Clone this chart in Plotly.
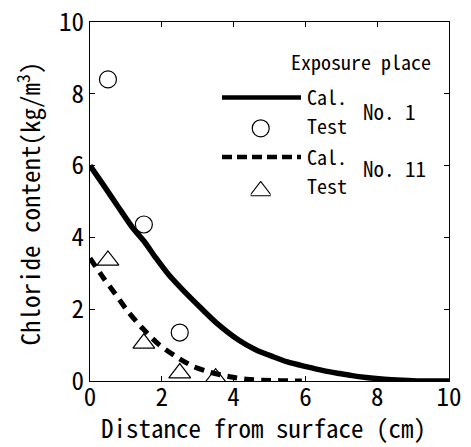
import plotly.graph_objects as go

# Cal. No.1 curve
cal1_x = [0, 0.4, 0.76, 1.2, 1.5, 1.84, 2.2, 2.59, 3.06, 3.52, 4.17, 4.6, 5.09, 5.5, 6.02, 6.5, 6.94, 7.3, 7.69, 8.2, 8.7, 9.2, 10]
cal1_y = [6.0, 5.42, 4.89, 4.25, 3.9, 3.42, 2.95, 2.53, 2.06, 1.62, 1.12, 0.88, 0.68, 0.53, 0.40, 0.29, 0.21, 0.15, 0.10, 0.05, 0.02, 0.0, 0.0]

# Cal. No.11 curve
cal11_x = [0, 0.39, 0.70, 1.07, 1.47, 1.94, 2.43, 2.89, 3.33, 3.89, 4.35, 4.8, 5.3, 5.9]
cal11_y = [3.42, 2.85, 2.43, 1.92, 1.46, 1.0, 0.66, 0.40, 0.25, 0.12, 0.05, 0.02, 0.01, 0.0]

# Test data
test1_x = [0.5, 1.5, 2.5]
test1_y = [8.4, 4.36, 1.35]
test11_x = [0.5, 1.5, 2.5, 3.5]
test11_y = [3.36, 1.05, 0.22, 0.08]

x_ticks = [0, 2, 4, 6, 8, 10]
y_ticks = [0, 2, 4, 6, 8, 10]

FONT = "Noto Sans Mono CJK JP, Liberation Mono, monospace"

fig = go.Figure()
fig.add_trace(go.Scatter(x=cal1_x, y=cal1_y, mode="lines", line=dict(color="black", width=5.5, shape="spline", smoothing=0.8), showlegend=False))
fig.add_trace(go.Scatter(x=cal11_x, y=cal11_y, mode="lines", line=dict(color="black", width=5, dash="10px,7px", shape="spline", smoothing=0.8), showlegend=False))
fig.add_trace(go.Scatter(x=test1_x, y=test1_y, mode="markers", marker=dict(symbol="circle-open", size=17, color="black", line=dict(width=1.2)), showlegend=False))
fig.add_trace(go.Scatter(x=test11_x, y=test11_y, mode="markers", marker=dict(symbol="triangle-up-open", size=19, color="black", line=dict(width=1.2)), showlegend=False))

axis_common = dict(
    showline=True, linecolor="black", linewidth=1, mirror="ticks",
    ticks="inside", ticklen=5, tickcolor="black", tickwidth=1,
    showgrid=False, zeroline=False, automargin=False,
    ticklabeloverflow="allow",
    tickfont=dict(family=FONT, size=25, color="black"),
)
fig.update_xaxes(range=[0, 10], tickvals=x_ticks, ticklabelstandoff=-6, **axis_common)
fig.update_yaxes(range=[0, 10], tickvals=y_ticks, **axis_common)

# extra top axis so the top frame line and its ticks are drawn
fig.update_layout(xaxis4=dict(overlaying="x", side="top", anchor="y", range=[0, 10], tickvals=x_ticks,
                              showticklabels=False, showline=True, linecolor="black", linewidth=1,
                              ticks="inside", ticklen=5, tickcolor="black", showgrid=False, zeroline=False,
                              automargin=False, fixedrange=True))
fig.add_trace(go.Scatter(x=[None], y=[None], xaxis="x4", yaxis="y", showlegend=False, hoverinfo="skip"))


def px2x(p):
    return (p - 90) / 359.0


def px2y(p):
    return (381 - p) / 359.0


ann = []
ann.append(dict(xref="paper", yref="paper", x=px2x(263.5), y=px2y(427), yanchor="middle", xanchor="center", showarrow=False,
                text="Distance from surface (cm)", font=dict(family=FONT, size=25, color="black")))
ann.append(dict(xref="paper", yref="paper", x=px2x(28), y=px2y(203.5), xanchor="center", yanchor="middle", showarrow=False, textangle=-90,
                text="Chloride content(kg/m<sup>3</sup>)", font=dict(family=FONT, size=25, color="black")))

ann.append(dict(xref="paper", yref="paper", x=px2x(433), y=px2y(62), xanchor="right", yanchor="middle", showarrow=False,
                text="Exposure place", font=dict(family=FONT, size=20, color="black")))
for txt, yy in [("Cal.", 97), ("Test", 126), ("Cal.", 156), ("Test", 185)]:
    ann.append(dict(xref="paper", yref="paper", x=px2x(305), y=px2y(yy), xanchor="left", yanchor="middle", showarrow=False,
                    text=txt, font=dict(family=FONT, size=20, color="black")))
for txt, yy in [("No. 1", 110.5), ("No. 11", 167.5)]:
    ann.append(dict(xref="paper", yref="paper", x=px2x(361), y=px2y(yy), xanchor="left", yanchor="middle", showarrow=False,
                    text=txt, font=dict(family=FONT, size=21, color="black")))

shapes = [
    dict(type="line", xref="paper", yref="paper", x0=px2x(222), x1=px2x(301), y0=px2y(97.5), y1=px2y(97.5),
         line=dict(color="black", width=4.5)),
    dict(type="line", xref="paper", yref="paper", x0=px2x(222), x1=px2x(301), y0=px2y(157), y1=px2y(157),
         line=dict(color="black", width=4.5, dash="10px,5px")),
]
fig.update_layout(annotations=ann, shapes=shapes)

# legend symbols on small hidden overlay axes
fig.add_trace(go.Scatter(x=[0.5], y=[0.5], xaxis="x2", yaxis="y2", mode="markers",
                         marker=dict(symbol="circle-open", size=17, color="black", line=dict(width=1.2)), showlegend=False))
fig.add_trace(go.Scatter(x=[0.5], y=[0.5], xaxis="x3", yaxis="y3", mode="markers",
                         marker=dict(symbol="triangle-up-open", size=19, color="black", line=dict(width=1.2)), showlegend=False))
hidden = dict(visible=False, range=[0, 1], fixedrange=True)
fig.update_layout(
    xaxis2=dict(domain=[px2x(250.7), px2x(270.7)], anchor="y2", **hidden),
    yaxis2=dict(domain=[px2y(138.3), px2y(118.3)], anchor="x2", **hidden),
    xaxis3=dict(domain=[px2x(250.7), px2x(270.7)], anchor="y3", **hidden),
    yaxis3=dict(domain=[px2y(201), px2y(181)], anchor="x3", **hidden),
)

# page body has an 8px margin: size the figure so the plot lands where the reference has it
fig.update_layout(
    width=463, height=439,
    margin=dict(l=82, r=22, t=14, b=66, autoexpand=False),
    paper_bgcolor="white", plot_bgcolor="white",
    font=dict(family=FONT, color="black"),
)
fig.write_html("out.html", config={"displayModeBar": False})
